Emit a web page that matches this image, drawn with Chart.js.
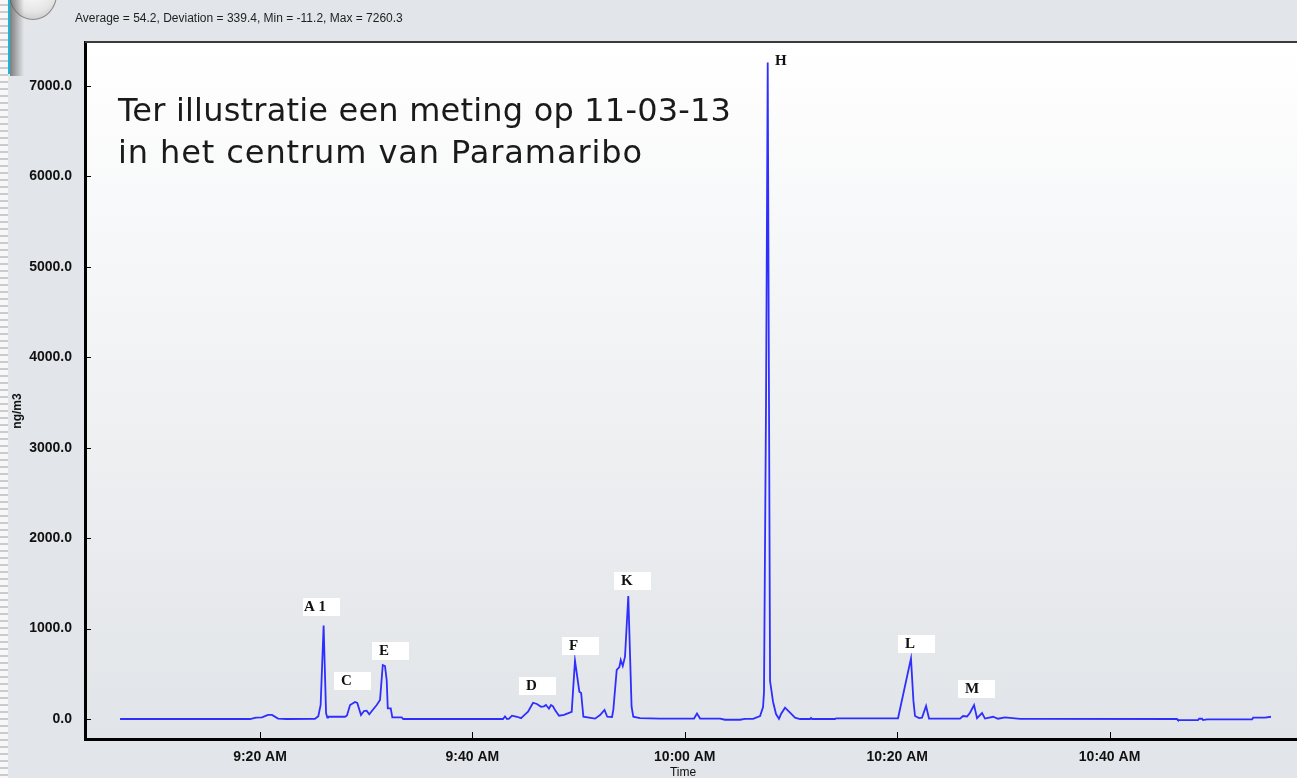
<!DOCTYPE html>
<html>
<head>
<meta charset="utf-8">
<script src="https://cdn.jsdelivr.net/npm/chart.js@4.4.1/dist/chart.umd.min.js"></script>
<style>
  html, body { margin:0; padding:0; background:#e2e5e9; }
  #wrap { position:relative; width:1297px; height:778px; overflow:hidden; background:#e2e5e9; }
  #c { position:absolute; left:0; top:0; }
  .txt { position:absolute; white-space:nowrap; }
  #hdr { left:75px; top:11px; font:12px "Liberation Sans", Arial, sans-serif; color:#1e1e1e; }
  #note { left:118px; top:89px; font:32px "DejaVu Sans", Verdana, sans-serif; color:#1a1a1a; line-height:42px; }
  #note .l1 { letter-spacing:0.2px; }
  #note .l2 { letter-spacing:0.9px; }
  #ytitle { left:-3px; top:404px; font:bold 12px "Liberation Sans", Arial, sans-serif; color:#111; transform:rotate(-90deg); transform-origin:center; width:40px; text-align:center; }
  #xtitle { left:663px; top:765px; width:40px; text-align:center; font:12px "Liberation Sans", Arial, sans-serif; color:#111; }
  #strip { position:absolute; left:0; top:0; width:8px; height:778px;
           background:repeating-linear-gradient(to bottom, #f7f7f7 0 4px, #c9cbce 4px 6px, #f7f7f7 6px 7px); }
  #cyan { position:absolute; left:8px; top:0; width:2px; height:74px; background:#1cb3d6; }
  #shade { position:absolute; left:10px; top:0; width:14px; height:76px; background:linear-gradient(to right, rgba(90,90,90,0.75), rgba(226,229,233,0)); }
  #icon { position:absolute; left:9px; top:-32px; width:46px; height:50px; border-radius:50%; border:1px solid #8a8a8a; background:radial-gradient(circle at 50% 40%, #ffffff 0%, #e6e6e6 60%, #b9b9b9 100%); }
</style>
</head>
<body>
<div id="wrap">
  <canvas id="c" width="1297" height="778"></canvas>
  <div id="strip"></div>
  <div id="icon"></div>
  <div id="shade"></div>
  <div id="cyan"></div>
  <div class="txt" id="hdr">Average = 54.2, Deviation = 339.4, Min = -11.2, Max = 7260.3</div>
  <div class="txt" id="note"><span class="l1">Ter illustratie een meting op 11-03-13</span><br><span class="l2">in het centrum van Paramaribo</span></div>
  <div class="txt" id="ytitle">ng/m3</div>
  <div class="txt" id="xtitle">Time</div>
</div>
<script>
// minutes after 9:00 AM
const times = [6.82,19.06,19.62,20.19,20.75,21.13,21.70,22.5,25.18,25.49,25.71,25.99,26.22,26.34,26.40,28.00,28.19,28.48,28.95,29.16,29.51,29.79,30.04,30.29,30.61,30.99,31.30,31.56,31.77,31.93,32.03,32.31,32.46,33.34,33.49,
  42.88,43.07,43.26,43.45,43.73,44.20,44.58,44.86,45.24,45.71,46.08,46.46,46.74,46.93,47.21,47.40,47.59,47.78,48.16,48.63,49.16,49.35,49.66,50.07,50.24,50.45,51.55,52.02,52.44,52.70,53.15,53.27,53.59,53.84,53.97,54.16,54.37,54.68,54.99,55.15,55.78,57.67,
  60.87,61.15,61.44,63.32,63.79,65.20,65.67,66.43,67.09,67.37,67.46,67.65,67.81,67.93,68.03,68.31,68.59,68.87,69.06,69.44,69.91,70.38,70.85,71.80,71.89,71.99,74.15,74.25,
  80.08,81.30,81.53,81.68,82.06,82.34,82.72,83.00,85.92,86.20,86.58,86.86,87.24,87.52,87.99,88.27,89.03,89.50,90.16,91.10,91.57,
  106.35,106.44,108.33,108.43,108.71,108.80,109.18,113.42,113.52,114.64,115.20];
// ng/m3
const values = [0,0,15,18,45,45,5,0,3,30,155,1035,66,15,25,25,40,155,188,177,44,88,92,52,100,155,210,597,586,431,118,118,19,19,0,
  0,28,0,3,37,25,10,40,80,180,166,136,140,155,114,155,140,100,37,45,70,80,645,302,288,25,4,44,100,25,22,100,542,575,652,586,689,1360,136,25,10,5,
  5,60,5,5,-8,-8,2,2,33,133,300,3500,7260.3,3500,420,191,55,3,55,125,70,14,0,0,12,0,0,8,
  8,671,200,33,10,15,144,5,5,33,28,70,155,10,66,5,25,3,19,8,2,
  0,-11.2,-11.2,3,3,-11.2,-5,-3,15,15,25];

const yTickValues = [0,1000,2000,3000,4000,5000,6000,7000];
const xTickValues = [20,40,60,80,100]; // 9:20 ... 10:40

// peak labels: text, time (min after 9:00) and value at box top-left
const labelTexts = ['A 1','C','E','D','F','K','H','L','M'];
const labelTimes = [24.05,26.97,30.55,44.39,48.44,53.34,68.31,80.08,85.73];
const labelValues = [1338,520,851,464,907,1626,7376,929,431];

const points = times.map((t,i)=>({x:t, y:values[i]}));

function fmtTime(m){
  const total = 9*60 + m;
  let h = Math.floor(total/60), mm = Math.round(total%60);
  const ap = h >= 12 ? 'PM' : 'AM';
  const hh = h > 12 ? h-12 : h;
  return hh + ':' + String(mm).padStart(2,'0') + ' ' + ap;
}

const bgPlugin = {
  id:'bg',
  beforeDraw(chart){
    const {ctx, chartArea:a} = chart;
    const g = ctx.createLinearGradient(0,a.top,0,a.bottom);
    g.addColorStop(0,'#ffffff');
    g.addColorStop(1,'#e1e4e8');
    ctx.save();
    ctx.fillStyle = g;
    ctx.fillRect(a.left,a.top,a.right-a.left,a.bottom-a.top);
    ctx.restore();
  },
  afterDraw(chart){
    const {ctx, chartArea:a, scales} = chart;
    ctx.save();
    ctx.strokeStyle = '#3a3a3a'; ctx.lineWidth = 2;
    ctx.beginPath(); ctx.moveTo(a.left, a.top); ctx.lineTo(a.right, a.top); ctx.stroke();
    ctx.strokeStyle = '#000'; ctx.lineWidth = 1;
    scales.y.ticks.forEach(t=>{
      const py = Math.round(scales.y.getPixelForValue(t.value)) + 0.5;
      ctx.beginPath(); ctx.moveTo(a.left+1, py); ctx.lineTo(a.left+6, py); ctx.stroke();
    });
    scales.x.ticks.forEach(t=>{
      const px = Math.round(scales.x.getPixelForValue(t.value)) + 0.5;
      ctx.beginPath(); ctx.moveTo(px, a.bottom-1); ctx.lineTo(px, a.bottom-7); ctx.stroke();
    });
    ctx.font = 'bold 15px "Liberation Serif", "Times New Roman", serif';
    ctx.textBaseline = 'middle';
    labelTexts.forEach((txt,i)=>{
      const bx = scales.x.getPixelForValue(labelTimes[i]);
      const by = scales.y.getPixelForValue(labelValues[i]);
      if (txt !== 'H') {
        ctx.fillStyle = '#ffffff';
        ctx.fillRect(Math.round(bx), Math.round(by), 37, 18);
      }
      ctx.fillStyle = '#111111';
      const dx = txt === 'A 1' ? 1 : (txt === 'H' ? 2 : 7);
      ctx.fillText(txt, Math.round(bx)+dx, Math.round(by)+9.5);
    });
    ctx.restore();
  }
};

new Chart(document.getElementById('c'), {
  type:'line',
  data:{ datasets:[{
    data: points,
    borderColor:'#2e2eff',
    borderWidth:1.8,
    pointRadius:0,
    tension:0,
    fill:false
  }]},
  options:{
    responsive:false,
    animation:false,
    events:[],
    layout:{ padding:{ top:42, right:0, left:0, bottom:0 } },
    plugins:{ legend:{display:false}, tooltip:{enabled:false}, title:{display:false} },
    scales:{
      x:{
        type:'linear',
        min:3.52, max:117.65,
        grid:{ display:false, drawTicks:false },
        border:{ display:true, color:'#000', width:3 },
        ticks:{ stepSize:20, padding:10, color:'#111', maxRotation:0, autoSkip:false,
                font:{ family:'"Liberation Sans", Arial, sans-serif', size:14, weight:'bold' },
                callback:(v)=>fmtTime(v) },
        afterBuildTicks(scale){ scale.ticks = xTickValues.map(v=>({value:v})); },
        afterFit(scale){ scale.height = 39; }
      },
      y:{
        type:'linear',
        min:-221, max:7486,
        grid:{ display:false, drawTicks:false },
        border:{ display:true, color:'#000', width:3 },
        ticks:{ stepSize:1000, padding:13, color:'#111',
                font:{ family:'"Liberation Sans", Arial, sans-serif', size:14, weight:'bold' },
                callback:(v)=>Number(v).toFixed(1) },
        afterBuildTicks(scale){ scale.ticks = yTickValues.map(v=>({value:v})); },
        afterFit(scale){ scale.width = 85; }
      }
    }
  },
  plugins:[bgPlugin]
});
</script>
</body>
</html>
